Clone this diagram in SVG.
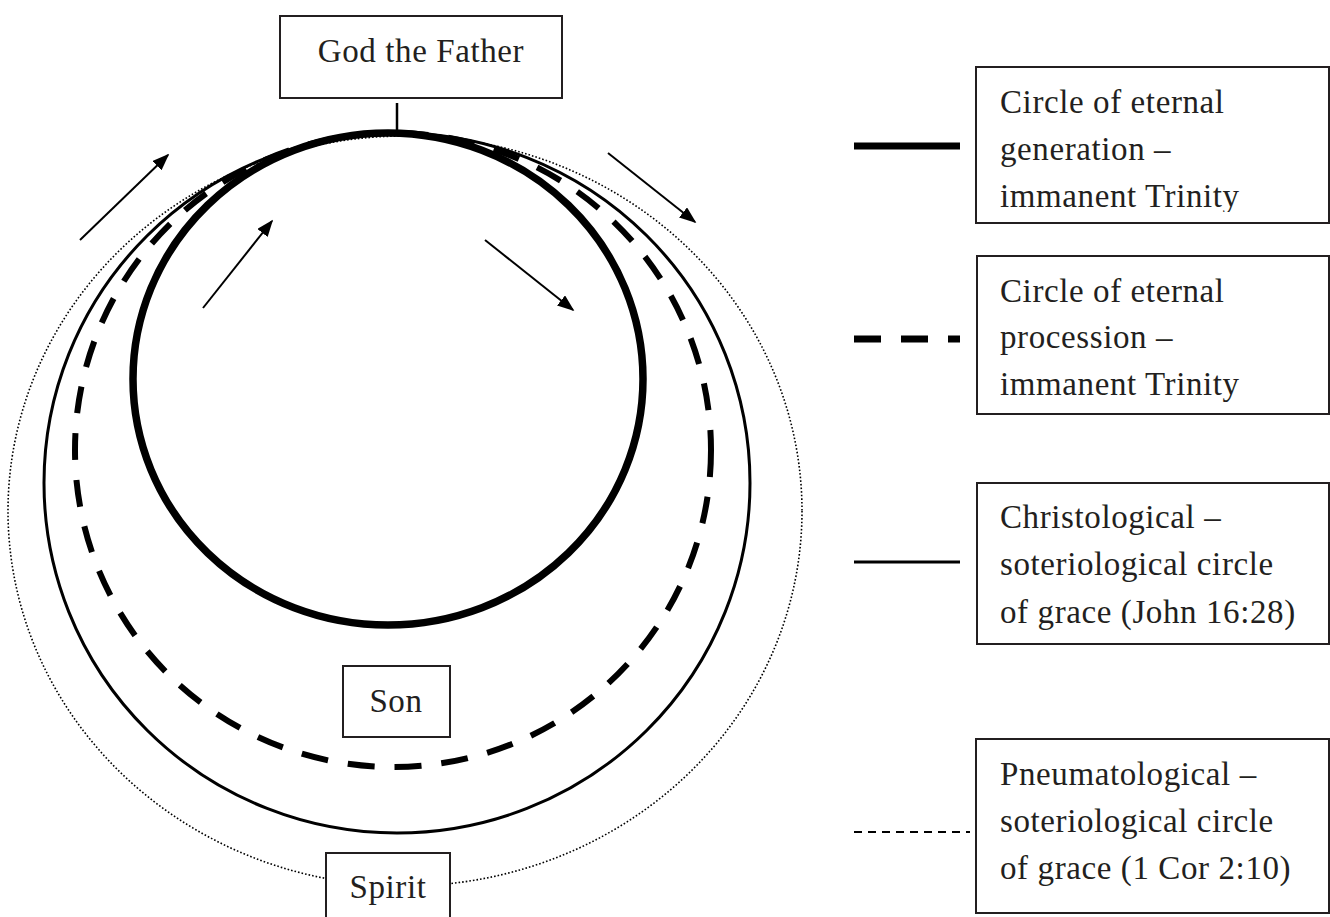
<svg xmlns="http://www.w3.org/2000/svg" width="1330" height="917" viewBox="0 0 1330 917">
<style>
  .box { fill: #fff; stroke: #231f20; stroke-width: 2; }
  .lbl { font-family: "Liberation Serif", "Times New Roman", serif; font-size: 33px; letter-spacing: 0.6px; fill: #231f20; }
  .arrow { stroke: #000; stroke-width: 2; fill: none; marker-end: url(#ah); }
</style>
<defs>
  <marker id="ah" viewBox="0 0 10 10" refX="9" refY="5" markerWidth="17" markerHeight="13" markerUnits="userSpaceOnUse" orient="auto" preserveAspectRatio="none">
    <path d="M0,0 L10,5 L0,10 z" fill="#000"/>
  </marker>
  <clipPath id="clip1"><rect x="976" y="67" width="354" height="145"/></clipPath>
</defs>
<rect width="1330" height="917" fill="#fff"/>

<g id="connectors">
  <ellipse cx="405" cy="511" rx="397" ry="375" fill="none" stroke="#000" stroke-width="1.6" stroke-dasharray="1.6 2"/>
  <ellipse cx="397" cy="483" rx="353" ry="350" fill="none" stroke="#000" stroke-width="3"/>
  <ellipse cx="393" cy="450" rx="318" ry="317" fill="none" stroke="#000" stroke-width="6" stroke-dasharray="27 20"/>
  <ellipse cx="388" cy="379" rx="255" ry="246" fill="none" stroke="#000" stroke-width="7.5"/>
  <line x1="397" y1="103" x2="397" y2="133" stroke="#000" stroke-width="2.5"/>
  <line class="arrow" x1="80" y1="240" x2="168" y2="155"/>
  <line class="arrow" x1="203" y1="308" x2="272" y2="221"/>
  <line class="arrow" x1="608" y1="153" x2="695" y2="222"/>
  <line class="arrow" x1="485" y1="240" x2="573" y2="310"/>
  <line x1="854" y1="146" x2="960" y2="146" stroke="#000" stroke-width="7"/>
  <line x1="854" y1="339" x2="960" y2="339" stroke="#000" stroke-width="7" stroke-dasharray="27 20"/>
  <line x1="854" y1="562" x2="960" y2="562" stroke="#000" stroke-width="3"/>
  <line x1="854" y1="832" x2="970" y2="832" stroke="#000" stroke-width="2" stroke-dasharray="8 6"/>
</g>

<g id="father">
  <rect class="box" x="280" y="16" width="282" height="82"/>
  <text class="lbl" x="421" y="62" text-anchor="middle">God the Father</text>
</g>
<g id="son">
  <rect class="box" x="343" y="666" width="107" height="71"/>
  <text class="lbl" x="396" y="712" text-anchor="middle">Son</text>
</g>
<g id="spirit">
  <rect class="box" x="326" y="853" width="124" height="70"/>
  <text class="lbl" x="388" y="898" text-anchor="middle">Spirit</text>
</g>

<g id="legend1">
  <rect class="box" x="976" y="67" width="353" height="156"/>
  <g clip-path="url(#clip1)">
    <text class="lbl" x="1000" y="113">Circle of eternal</text>
    <text class="lbl" x="1000" y="160">generation –</text>
    <text class="lbl" x="1000" y="207">immanent Trinity</text>
  </g>
</g>
<g id="legend2">
  <rect class="box" x="977" y="256" width="352" height="158"/>
  <text class="lbl" x="1000" y="302">Circle of eternal</text>
  <text class="lbl" x="1000" y="348">procession –</text>
  <text class="lbl" x="1000" y="395">immanent Trinity</text>
</g>
<g id="legend3">
  <rect class="box" x="977" y="483" width="352" height="161"/>
  <text class="lbl" x="1000" y="528">Christological –</text>
  <text class="lbl" x="1000" y="575">soteriological circle</text>
  <text class="lbl" x="1000" y="623">of grace (John 16:28)</text>
</g>
<g id="legend4">
  <rect class="box" x="976" y="739" width="353" height="174"/>
  <text class="lbl" x="1000" y="785">Pneumatological –</text>
  <text class="lbl" x="1000" y="832">soteriological circle</text>
  <text class="lbl" x="1000" y="879">of grace (1 Cor 2:10)</text>
</g>
</svg>
